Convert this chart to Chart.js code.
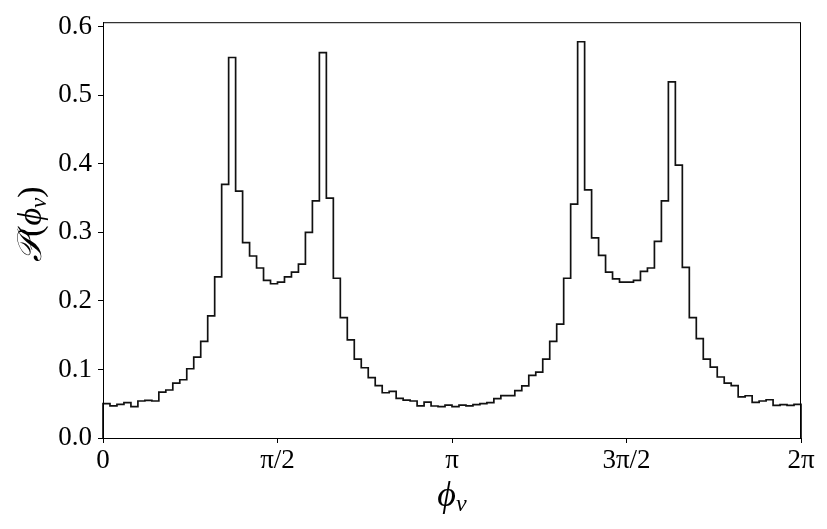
<!DOCTYPE html>
<html>
<head>
<meta charset="utf-8">
<script src="https://cdn.jsdelivr.net/npm/chart.js@4.4.1/dist/chart.umd.min.js"></script>
<style>
  html, body { margin: 0; padding: 0; background: #fff; }
  #wrap { width: 827px; height: 529px; }
</style>
</head>
<body>
<div id="wrap"><canvas id="hist"></canvas></div>
<script>
// histogram of phi_v, 100 bins over [0, 2pi]
const binCount = 100;
const binValues = [
  0.050, 0.047, 0.049, 0.0515, 0.0457, 0.054, 0.055, 0.054, 0.067, 0.070,
  0.080, 0.085, 0.101, 0.118, 0.141, 0.178, 0.235, 0.370, 0.555, 0.360,
  0.285, 0.2655, 0.248, 0.230, 0.225, 0.2275, 0.235, 0.242, 0.2535, 0.300,
  0.346, 0.562, 0.350, 0.233, 0.1756, 0.143, 0.115, 0.1025, 0.088, 0.0765,
  0.066, 0.068, 0.0577, 0.0553, 0.054, 0.047, 0.0524, 0.0467, 0.0457, 0.048,
  0.0457, 0.048, 0.047, 0.0486, 0.050, 0.0515, 0.0575, 0.0617, 0.0617, 0.069,
  0.076, 0.0914, 0.096, 0.115, 0.141, 0.166, 0.233, 0.341, 0.578, 0.362,
  0.292, 0.2665, 0.242, 0.232, 0.2275, 0.2275, 0.230, 0.243, 0.248, 0.2867,
  0.346, 0.5195, 0.398, 0.249, 0.1756, 0.145, 0.115, 0.1034, 0.089, 0.080,
  0.0765, 0.060, 0.0616, 0.052, 0.054, 0.0558, 0.0476, 0.0486, 0.0476, 0.049
];

const xTicks = [0, Math.PI / 2, Math.PI, 3 * Math.PI / 2, 2 * Math.PI];
const xTickLabels = ['0', 'π/2', 'π', '3π/2', '2π'];
const yTicks = [0, 0.1, 0.2, 0.3, 0.4, 0.5, 0.6];

const X_MAX = 2 * Math.PI;
const Y_MAX = 0.6065;
const SERIF = '"Liberation Serif", "DejaVu Serif", serif';

// step outline: value of each point holds until the next edge
const binWidth = X_MAX / binCount;
const outline = [{ x: 0, y: 0 }];
binValues.forEach((v, i) => outline.push({ x: i * binWidth, y: v }));
outline.push({ x: X_MAX, y: 0 });

// frame + axis titles (with subscript v)
const framePlugin = {
  id: 'frame',
  afterDraw(chart) {
    const { ctx, chartArea: a } = chart;
    ctx.save();
    ctx.strokeStyle = '#000';
    ctx.lineWidth = 1;
    ctx.strokeRect(a.left + 0.5, a.top + 0.5, a.right - a.left - 1, a.bottom - a.top);

    ctx.fillStyle = '#000';
    ctx.textBaseline = 'alphabetic';

    const drawParts = (parts, cx, cy) => {
      let total = 0;
      parts.forEach(p => {
        ctx.font = p.font;
        p.w = ctx.measureText(p.t).width;
        total += p.w;
      });
      let x = cx - total / 2;
      parts.forEach(p => {
        ctx.font = p.font;
        ctx.fillText(p.t, x, cy + (p.dy || 0));
        x += p.w;
      });
    };

    // x title
    drawParts([
      { t: 'ϕ', font: `italic 36px ${SERIF}` },
      { t: 'v', font: `italic 24px ${SERIF}`, dy: 5 }
    ], (a.left + a.right) / 2, 506);

    // y title
    ctx.save();
    ctx.translate(41, (a.top + a.bottom) / 2 - 6);
    ctx.rotate(-Math.PI / 2);
    drawParts([
      { t: '𝒫', font: `italic 34px ${SERIF}` },
      { t: '(', font: `34px ${SERIF}` },
      { t: 'ϕ', font: `italic 34px ${SERIF}` },
      { t: 'v', font: `italic 23px ${SERIF}`, dy: 5 },
      { t: ')', font: `34px ${SERIF}` }
    ], 0, 0);
    ctx.restore();
    ctx.restore();
  }
};

new Chart(document.getElementById('hist'), {
  type: 'line',
  data: {
    datasets: [{
      data: outline,
      stepped: true,
      borderColor: '#111',
      borderWidth: 1.7,
      pointRadius: 0,
      fill: false,
      clip: 4
    }]
  },
  options: {
    responsive: true,
    maintainAspectRatio: false,
    animation: false,
    layout: { padding: { top: 18, right: 26, left: 0, bottom: 0 } },
    plugins: { legend: { display: false }, tooltip: { enabled: false } },
    scales: {
      x: {
        type: 'linear',
        min: 0,
        max: X_MAX,
        afterBuildTicks: s => { s.ticks = xTicks.map(v => ({ value: v })); },
        afterFit: s => { s.height = 91; },
        ticks: {
          color: '#000',
          font: { family: SERIF, size: 27 },
          padding: 2,
          maxRotation: 0,
          callback: (v, i) => xTickLabels[i]
        },
        grid: { drawOnChartArea: false, drawTicks: true, tickLength: 5, color: '#000' },
        border: { display: true, color: '#000', width: 1 }
      },
      y: {
        min: 0,
        max: Y_MAX,
        afterBuildTicks: s => { s.ticks = yTicks.map(v => ({ value: v })); },
        afterFit: s => { s.width = 103; },
        ticks: {
          color: '#000',
          font: { family: SERIF, size: 27 },
          padding: 6,
          callback: v => v.toFixed(1)
        },
        grid: { drawOnChartArea: false, drawTicks: true, tickLength: 5, color: '#000' },
        border: { display: true, color: '#000', width: 1 }
      }
    }
  },
  plugins: [framePlugin]
});
</script>
</body>
</html>
